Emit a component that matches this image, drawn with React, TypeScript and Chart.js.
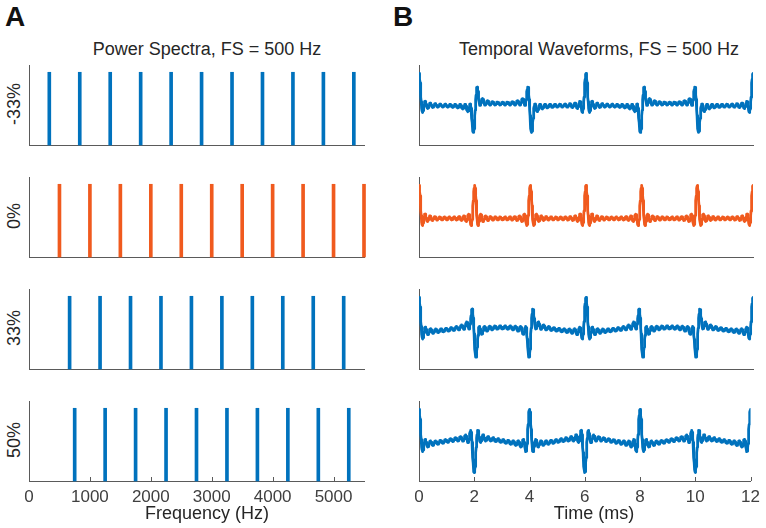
import React, { useEffect, useRef } from 'react';
import { Chart, registerables } from 'chart.js';

Chart.register(...registerables);

// ---------------- data ----------------
const SHIFT_LABELS = ['-33%', '0%', '33%', '50%'];
// component frequencies (Hz) of each harmonic complex, FS = 500 Hz
const SPEC_M33 = [333.3, 833.3, 1333.3, 1833.3, 2333.3, 2833.3, 3333.3, 3833.3, 4333.3, 4833.3, 5333.3];
const SPEC_0 = [500, 1000, 1500, 2000, 2500, 3000, 3500, 4000, 4500, 5000, 5500];
const SPEC_33 = [666.7, 1166.7, 1666.7, 2166.7, 2666.7, 3166.7, 3666.7, 4166.7, 4666.7, 5166.7];
const SPEC_50 = [750, 1250, 1750, 2250, 2750, 3250, 3750, 4250, 4750, 5250];
const SPEC_AMPLITUDE = 1; // all components have equal level
const FREQ_TICKS = [0, 1000, 2000, 3000, 4000, 5000];
const TIME_TICKS = [0, 2, 4, 6, 8, 10, 12];
const FREQ_RANGE = [0, 5500];
const TIME_RANGE = [0, 12]; // ms
const SPECTRA = [SPEC_M33, SPEC_0, SPEC_33, SPEC_50];

// ---------------- styles / layout ----------------
const COLORS = ['#0072BD', '#F05A1E', '#0072BD', '#0072BD'];
const AXIS_COLOR = '#5a5a5a';
const TEXT_COLOR = '#262626';
const FONT = '"Liberation Sans", Arial, Helvetica, sans-serif';
const PANEL_TOPS = [65, 177, 289, 401];
const PANEL_H = 80;
const PAD_T = 6;

// temporal waveform = sum of the cosine-phase components shown in the spectrum
function waveform(freqs: number[]) {
  const pts: { x: number; y: number }[] = [];
  const step = 0.01; // ms
  const n = Math.round((TIME_RANGE[1] - TIME_RANGE[0]) / step);
  for (let i = 0; i <= n; i++) {
    const t = TIME_RANGE[0] + i * step;
    let v = 0;
    for (const f of freqs) v += SPEC_AMPLITUDE * Math.cos((2 * Math.PI * f * t) / 1000);
    pts.push({ x: t, y: v / freqs.length });
  }
  return pts;
}

const inwardTicks = {
  id: 'inwardTicks',
  afterDatasetsDraw(chart: any) {
    const { ctx, chartArea, scales } = chart;
    const xs = scales.x;
    ctx.save();
    ctx.strokeStyle = AXIS_COLOR;
    ctx.lineWidth = 1;
    xs.ticks.forEach((t: any) => {
      const px = Math.round(xs.getPixelForValue(t.value)) + 0.5;
      ctx.beginPath();
      ctx.moveTo(px, chartArea.bottom);
      ctx.lineTo(px, chartArea.bottom - 4);
      ctx.stroke();
    });
    ctx.restore();
  },
};

function layoutPadding(isBottom: boolean, padRight: number) {
  return { padding: { left: 0, right: padRight, top: PAD_T, bottom: isBottom ? 0 : PAD_T } };
}

const PLUGINS_OFF = { legend: { display: false }, tooltip: { enabled: false }, title: { display: false } };

function xAxis(isBottom: boolean, range: number[], ticks: number[]) {
  return {
    type: 'linear',
    min: range[0],
    max: range[1],
    offset: false,
    grid: { display: false, drawTicks: false },
    border: { display: true, color: AXIS_COLOR, width: 1 },
    ticks: {
      display: isBottom,
      color: '#404040',
      font: { family: FONT, size: 17 },
      padding: 6,
      maxRotation: 0,
      autoSkip: false,
      callback: (v: any) => String(v),
    },
    afterBuildTicks: (s: any) => {
      s.ticks = ticks.map((v) => ({ value: v }));
    },
    afterFit: (s: any) => {
      s.height = isBottom ? 30 : 0;
    },
  };
}

function yAxis(min: number, max: number, width: number) {
  return {
    min,
    max,
    grid: { display: false, drawTicks: false },
    border: { display: true, color: AXIS_COLOR, width: 1 },
    ticks: { display: false },
    afterFit: (s: any) => {
      s.width = width;
    },
  };
}

function spectrumConfig(i: number, isBottom: boolean): any {
  return {
    type: 'bar',
    data: {
      datasets: [
        {
          data: SPECTRA[i].map((f) => ({ x: f, y: SPEC_AMPLITUDE })),
          backgroundColor: COLORS[i],
          borderWidth: 0,
          barThickness: 3,
          clip: false,
        },
      ],
    },
    options: {
      responsive: false,
      animation: false,
      events: [],
      layout: layoutPadding(isBottom, 16),
      plugins: PLUGINS_OFF,
      scales: {
        x: xAxis(isBottom, FREQ_RANGE, FREQ_TICKS),
        y: yAxis(0, 1.1, 29),
      },
    },
    plugins: isBottom ? [inwardTicks] : [],
  };
}

function waveformConfig(i: number, isBottom: boolean): any {
  return {
    type: 'line',
    data: {
      datasets: [
        {
          data: waveform(SPECTRA[i]),
          borderColor: COLORS[i],
          borderWidth: 2.8,
          borderJoinStyle: 'round',
          borderCapStyle: 'round',
          pointRadius: 0,
          tension: 0,
          fill: false,
        },
      ],
    },
    options: {
      responsive: false,
      animation: false,
      events: [],
      layout: layoutPadding(isBottom, 13),
      plugins: PLUGINS_OFF,
      scales: {
        x: xAxis(isBottom, TIME_RANGE, TIME_TICKS),
        y: yAxis(-1.27, 1.27, 39),
      },
    },
    plugins: isBottom ? [inwardTicks] : [],
  };
}

function ChartCanvas(props: { make: () => any; left: number; top: number; width: number; height: number }) {
  const ref = useRef<HTMLCanvasElement | null>(null);
  useEffect(() => {
    if (!ref.current) return;
    const chart = new Chart(ref.current, props.make());
    return () => chart.destroy();
  }, []);
  return (
    <canvas
      ref={ref}
      width={props.width}
      height={props.height}
      style={{ position: 'absolute', left: props.left, top: props.top, width: props.width, height: props.height }}
    />
  );
}

function Text(props: { x: number; baseline: number; size: number; bold?: boolean; align?: 'left' | 'center'; children: any }) {
  const top = props.baseline - 0.8465 * props.size;
  return (
    <div
      style={{
        position: 'absolute',
        left: props.x,
        top,
        fontFamily: FONT,
        fontSize: props.size,
        lineHeight: 1,
        fontWeight: props.bold ? 'bold' : 'normal',
        color: props.bold ? '#111' : TEXT_COLOR,
        whiteSpace: 'nowrap',
        transform: props.align === 'center' ? 'translateX(-50%)' : undefined,
      }}
    >
      {props.children}
    </div>
  );
}

function VLabel(props: { cx: number; cy: number; size: number; children: any }) {
  return (
    <div
      style={{
        position: 'absolute',
        left: props.cx,
        top: props.cy,
        fontFamily: FONT,
        fontSize: props.size,
        lineHeight: 1,
        color: TEXT_COLOR,
        whiteSpace: 'nowrap',
        transform: 'translate(-50%, -50%) rotate(-90deg)',
      }}
    >
      {props.children}
    </div>
  );
}

export default function App() {
  return (
    <div style={{ position: 'fixed', left: 0, top: 0, width: 766, height: 528, background: '#fff', overflow: 'hidden' }}>
      <Text x={5} baseline={27} size={28} bold>
        A
      </Text>
      <Text x={393} baseline={27} size={28} bold>
        B
      </Text>
      <Text x={207} baseline={55} size={18} align="center">
        Power Spectra, FS = 500 Hz
      </Text>
      <Text x={599} baseline={55} size={18} align="center">
        Temporal Waveforms, FS = 500 Hz
      </Text>
      {SHIFT_LABELS.map((lab, i) => (
        <VLabel key={'l' + i} cx={14} cy={PANEL_TOPS[i] + 39} size={18}>
          {lab}
        </VLabel>
      ))}
      {SHIFT_LABELS.map((_, i) => {
        const isBottom = i === SHIFT_LABELS.length - 1;
        const h = PAD_T + PANEL_H + (isBottom ? 30 : PAD_T);
        return (
          <ChartCanvas
            key={'s' + i}
            make={() => spectrumConfig(i, isBottom)}
            left={0}
            top={PANEL_TOPS[i] - PAD_T}
            width={380}
            height={h}
          />
        );
      })}
      {SHIFT_LABELS.map((_, i) => {
        const isBottom = i === SHIFT_LABELS.length - 1;
        const h = PAD_T + PANEL_H + (isBottom ? 30 : PAD_T);
        return (
          <ChartCanvas
            key={'w' + i}
            make={() => waveformConfig(i, isBottom)}
            left={380}
            top={PANEL_TOPS[i] - PAD_T}
            width={386}
            height={h}
          />
        );
      })}
      <Text x={207} baseline={519} size={18} align="center">
        Frequency (Hz)
      </Text>
      <Text x={594} baseline={519} size={18} align="center">
        Time (ms)
      </Text>
    </div>
  );
}
